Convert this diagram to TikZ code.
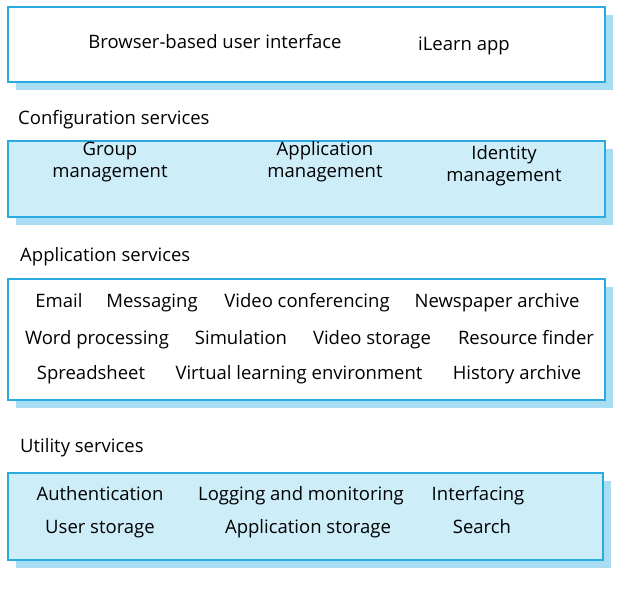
\documentclass[tikz,border=0pt]{standalone}
\usepackage{fontspec}
\setmainfont{Open Sans}
\usepackage{tikz}
\usetikzlibrary{positioning}
\definecolor{lineblue}{HTML}{29ABE2}
\definecolor{fillblue}{HTML}{CDEDF9}
\definecolor{shadowblue}{HTML}{A9DDF4}

\begin{document}
\begin{tikzpicture}[
    x=1pt, y=-1pt,
    layer/.style={draw=lineblue, line width=1.5pt},
    shadow/.style={fill=shadowblue},
    item/.style={font=\fontsize{18.5}{22}\selectfont, align=center, inner sep=0pt, text height=13pt, text depth=4pt},
    title/.style={font=\fontsize{18.5}{22}\selectfont, anchor=west, inner sep=0pt, text height=13pt, text depth=4pt}
]
\useasboundingbox (0,0) rectangle (627,589);
% shadows
\fill[shadow] (16,15) rectangle (613,90);
\fill[shadow] (16,149) rectangle (613,225);
\fill[shadow] (16,287) rectangle (613,408);
\fill[shadow] (16,481) rectangle (611,568);
% layers
\draw[layer, fill=white] (8,7) rectangle (605,82);
\draw[layer, fill=fillblue] (8,141) rectangle (605,217);
\draw[layer, fill=white] (8,279) rectangle (605,400);
\draw[layer, fill=fillblue] (8,473) rectangle (603,560);

% user interface
\node[item] (browser) at (215,44) {Browser-based user interface};
\node[item] (ilearn) at (464,46) {iLearn app};

% configuration services
\node[title] (conftitle) at (18,120) {Configuration services};
\node[item] (group) at (110,173) {Group\\management};
\node[item] (appman) at (325,173) {Application\\management};
\node[item] (identity) at (504,177) {Identity\\management};

% application services
\node[title] (apptitle) at (20,257) {Application services};
\node[item] (email) at (59,303) {Email};
\node[item] (messaging) at (152,303) {Messaging};
\node[item] (videoconf) at (307,303) {Video conferencing};
\node[item] (newspaper) at (497,303) {Newspaper archive};
\node[item] (word) at (97,340) {Word processing};
\node[item] (simulation) at (241,340) {Simulation};
\node[item] (videostore) at (372,340) {Video storage};
\node[item] (resource) at (526,340) {Resource finder};
\node[item] (spreadsheet) at (91,375) {Spreadsheet};
\node[item] (vle) at (299,375) {Virtual learning environment};
\node[item] (history) at (517,375) {History archive};

% utility services
\node[title] (utiltitle) at (20,448) {Utility services};
\node[item] (auth) at (100,496) {Authentication};
\node[item] (logging) at (301,496) {Logging and monitoring};
\node[item] (interfacing) at (478,496) {Interfacing};
\node[item] (userstore) at (100,529) {User storage};
\node[item] (appstore) at (308,529) {Application storage};
\node[item] (search) at (482,529) {Search};
\end{tikzpicture}
\end{document}
